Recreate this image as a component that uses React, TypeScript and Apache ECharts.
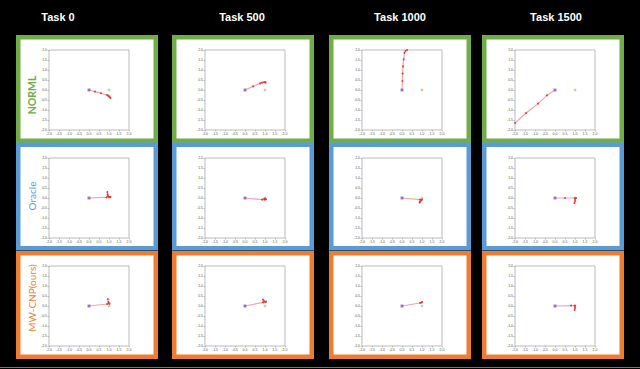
import React, { useEffect, useRef } from "react";
import * as echarts from "echarts";

const taskTitles = ["Task 0", "Task 500", "Task 1000", "Task 1500"];
const methodNames = ["NORML", "Oracle", "MW-CNP(ours)"];
const methodColors = ["#70AD47", "#5B9BD5", "#ED7D31"];
const axisMin = -2;
const axisMax = 2;
const axisStep = 0.5;
const startPoint = [0, 0];
const goalPoint = [1, 0];

// trajectories [x, y]
const normlTask0 = [[0, 0], [0.3, -0.08], [0.6, -0.16], [0.9, -0.25], [0.95, -0.28], [1.0, -0.32], [1.04, -0.36], [1.07, -0.4]];
const normlTask500 = [[0, 0], [0.4, 0.18], [0.75, 0.33], [0.85, 0.37], [0.95, 0.39], [1.0, 0.39], [1.03, 0.38]];
const normlTask1000 = [[0, 0], [0.02, 0.45], [0.03, 0.82], [0.05, 1.18], [0.08, 1.53], [0.12, 1.85], [0.17, 1.95], [0.25, 2.0]];
const normlTask1500 = [[0, 0], [-0.4, -0.27], [-0.85, -0.68], [-1.45, -1.15], [-2.0, -1.65]];
const oracleTask0 = [[0, 0], [0.86, 0.03], [0.95, 0.06], [0.93, 0.18], [0.92, 0.3], [0.95, 0.1], [1.02, 0.05], [1.07, 0.05]];
const oracleTask500 = [[0, 0], [0.85, -0.08], [0.95, -0.05], [1.0, -0.03], [1.05, -0.06], [0.98, -0.08]];
const oracleTask1000 = [[0, 0], [0.9, -0.08], [1.0, -0.08], [0.95, -0.12], [0.9, -0.18], [0.88, -0.22]];
const oracleTask1500 = [[0, 0], [0.5, 0], [1.0, 0], [1.05, 0], [1.0, -0.05], [1.0, -0.15], [0.97, -0.25]];
const mwcnpTask0 = [[0, 0], [0.9, 0.1], [1.0, 0.12], [1.03, 0.12], [0.96, 0.2], [0.94, 0.35]];
const mwcnpTask500 = [[0, 0], [0.9, 0.18], [1.0, 0.2], [1.05, 0.22], [0.95, 0.25], [0.9, 0.32]];
const mwcnpTask1000 = [[0, 0], [0.9, 0.15], [0.97, 0.18], [1.0, 0.2]];
const mwcnpTask1500 = [[0, 0], [0.8, 0.02], [0.98, 0.02], [1.0, 0], [1.0, -0.1], [0.98, -0.2]];

const trajectories = [
  [normlTask0, normlTask500, normlTask1000, normlTask1500],
  [oracleTask0, oracleTask500, oracleTask1000, oracleTask1500],
  [mwcnpTask0, mwcnpTask500, mwcnpTask1000, mwcnpTask1500],
];

// layout
const panelLefts = [16, 172, 329, 482];
const panelTops = [35, 142.5, 251];
const panelW = 142;
const panelH = 108;
const plotOffsetX = 33;
const plotTops = [50, 158, 266];
const plotSize = 80;
const titleXs = [58, 242, 400, 556];
const labelYs = [95, 196, 298];

export default function App() {
  const ref = useRef<HTMLDivElement>(null);
  useEffect(() => {
    if (!ref.current) return;
    const chart = echarts.init(ref.current, undefined, { renderer: "svg" });
    const grids: any[] = [];
    const xAxes: any[] = [];
    const yAxes: any[] = [];
    const series: any[] = [];
    const graphics: any[] = [];
    const axisCommon = {
      min: axisMin,
      max: axisMax,
      interval: axisStep,
      axisLine: { show: false, onZero: false },
      axisTick: { show: true, length: 1.5, lineStyle: { color: "#888", width: 0.5 } },
      axisLabel: { fontSize: 3.5, color: "#555", margin: 2, formatter: (v: number) => v.toFixed(1) },
      splitLine: { show: false },
    };
    for (let r = 0; r < 3; r++) {
      graphics.push({
        type: "text",
        x: 32,
        y: labelYs[r],
        rotation: Math.PI / 2,
        z: 10,
        style: {
          text: methodNames[r],
          fill: methodColors[r],
          font: r === 0 ? "bold 10.5px Lato" : "10px Lato",
          textAlign: "center",
          textVerticalAlign: "middle",
        },
      });
      for (let c = 0; c < 4; c++) {
        const idx = r * 4 + c;
        graphics.push({
          type: "rect",
          z: -10,
          shape: { x: panelLefts[c], y: panelTops[r], width: panelW, height: panelH },
          style: { fill: methodColors[r] },
        });
        graphics.push({
          type: "rect",
          z: -9,
          shape: { x: panelLefts[c] + 4.5, y: panelTops[r] + 4.5, width: panelW - 9, height: panelH - 9 },
          style: { fill: "#ffffff" },
        });
        grids.push({
          left: panelLefts[c] + plotOffsetX,
          top: plotTops[r],
          width: plotSize,
          height: plotSize,
          show: true,
          borderColor: "#bbbbbb",
          borderWidth: 1,
          backgroundColor: "#ffffff",
        });
        xAxes.push({ ...axisCommon, type: "value", position: "bottom", gridIndex: idx });
        yAxes.push({ ...axisCommon, type: "value", position: "left", gridIndex: idx });
        series.push({
          type: "line",
          xAxisIndex: idx,
          yAxisIndex: idx,
          data: trajectories[r][c],
          symbol: "circle",
          symbolSize: 1.8,
          itemStyle: { color: "#e83030" },
          lineStyle: { color: "#f4a6a6", width: 1.2 },
          clip: true,
          z: 3,
        });
        series.push({
          type: "scatter",
          xAxisIndex: idx,
          yAxisIndex: idx,
          data: [startPoint],
          symbol: "rect",
          symbolSize: 3,
          itemStyle: { color: "#8a6bd0" },
          z: 4,
        });
        series.push({
          type: "scatter",
          xAxisIndex: idx,
          yAxisIndex: idx,
          data: [goalPoint],
          symbol: "rect",
          symbolSize: 2.5,
          itemStyle: { color: r === 0 ? "#9ad48a" : "#b8c8a8" },
          z: 2,
        });
      }
    }
    for (let c = 0; c < 4; c++) {
      graphics.push({
        type: "text",
        x: titleXs[c],
        y: 17,
        style: {
          text: taskTitles[c],
          fill: "#ffffff",
          font: "bold 11px 'Liberation Sans'",
          textAlign: "center",
          textVerticalAlign: "middle",
        },
      });
    }
    graphics.push({
      type: "rect",
      shape: { x: 0, y: 367, width: 640, height: 1 },
      style: { fill: "#777777" },
    });
    chart.setOption({
      animation: false,
      backgroundColor: "#000000",
      grid: grids,
      xAxis: xAxes,
      yAxis: yAxes,
      series,
      graphic: { elements: graphics },
    });
    return () => chart.dispose();
  }, []);
  return (
    <div
      ref={ref}
      style={{ position: "fixed", left: 0, top: 0, width: 640, height: 369 }}
    />
  );
}
